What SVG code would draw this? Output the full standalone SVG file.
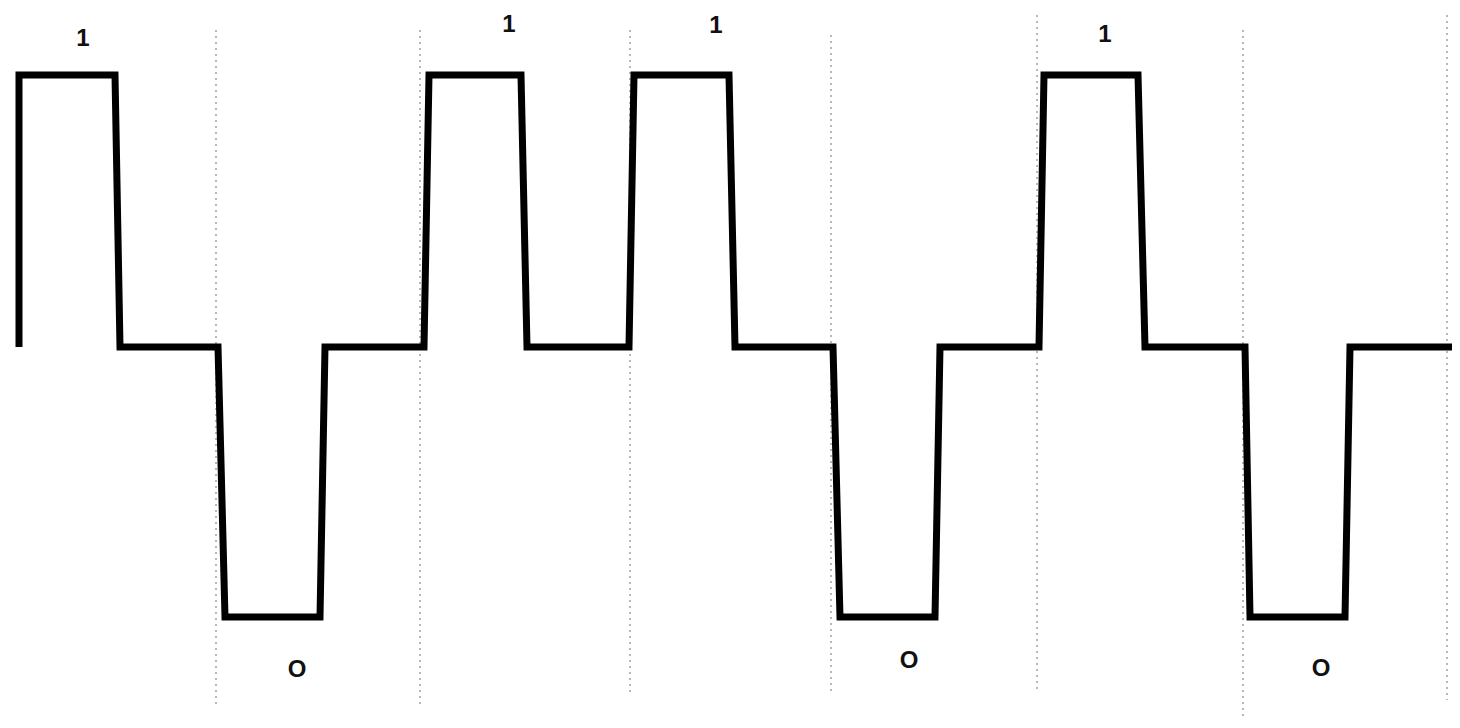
<svg xmlns="http://www.w3.org/2000/svg" width="1460" height="728" viewBox="0 0 1460 728">
<style>
.grid{stroke:#b8b8b8;stroke-width:2;stroke-dasharray:2 4;fill:none}
.wave{stroke:#000;stroke-width:7;fill:none;stroke-linejoin:miter}
.lbl{font-family:"Liberation Sans",Arial,sans-serif;font-weight:bold;font-size:24px;fill:#111;text-anchor:middle}
</style>
<rect width="1460" height="728" fill="#fff"/>
<g id="gridlines">
<line class="grid" x1="216" y1="30" x2="216" y2="705"/>
<line class="grid" x1="420" y1="30" x2="420" y2="705"/>
<line class="grid" x1="630" y1="30" x2="630" y2="692"/>
<line class="grid" x1="831" y1="35" x2="831" y2="695"/>
<line class="grid" x1="1037" y1="15" x2="1037" y2="690"/>
<line class="grid" x1="1243" y1="30" x2="1243" y2="720"/>
<line class="grid" x1="1447" y1="15" x2="1447" y2="700"/>
</g>
<g id="connectors">
<path class="wave" d="M19,347 L19,75 L115,75 L120,347 L218,347 L225,617 L320,617 L325,347 L424,347 L429,75 L521,75 L527,347 L629,347 L634,75 L729,75 L735,347 L833,347 L840,617 L935,617 L940,347 L1039,347 L1044,75 L1138,75 L1145,347 L1245,347 L1250,617 L1345,617 L1350,347 L1452,347"/>
</g>
<g id="labels">
<text class="lbl" x="83" y="46">1</text>
<text class="lbl" x="509" y="32">1</text>
<text class="lbl" x="716" y="33">1</text>
<text class="lbl" x="1105" y="42">1</text>
<text class="lbl" x="297" y="677">O</text>
<text class="lbl" x="909" y="668">O</text>
<text class="lbl" x="1321" y="676">O</text>
</g>
</svg>
